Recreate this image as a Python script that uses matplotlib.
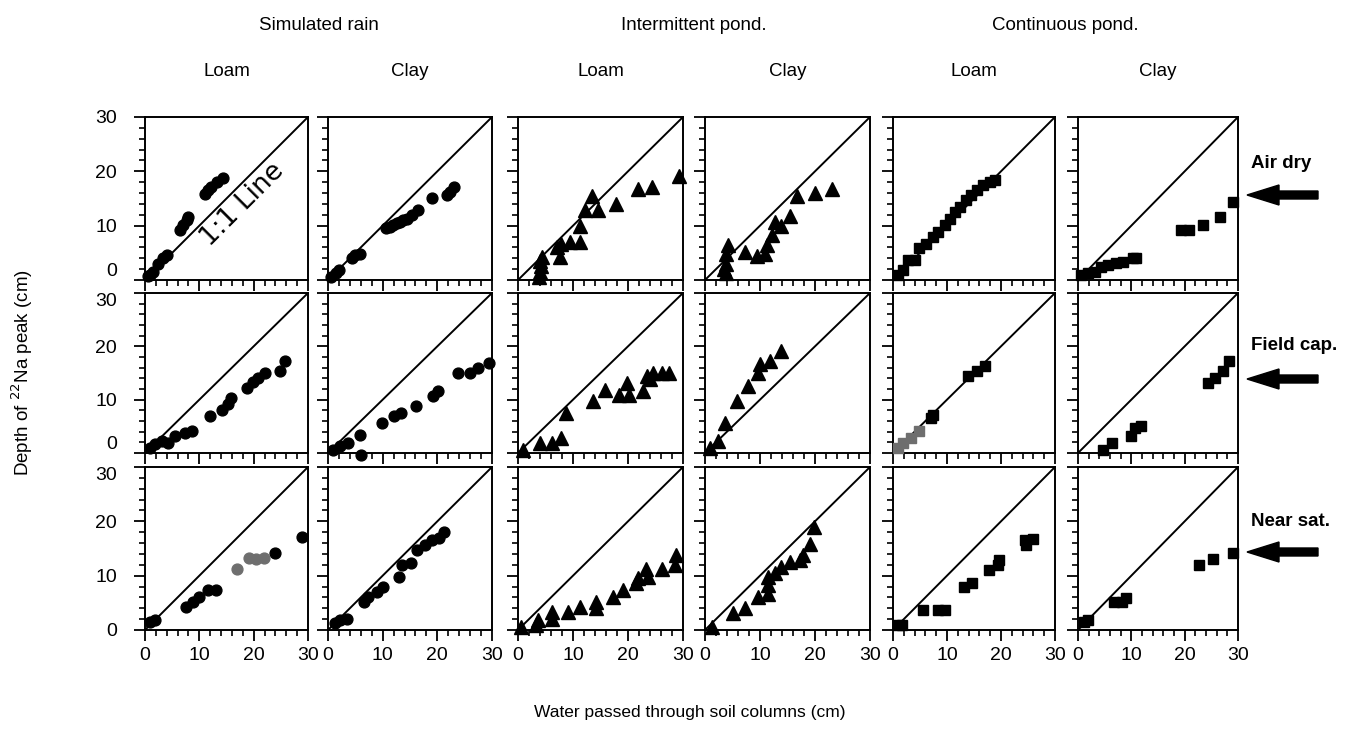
import matplotlib
matplotlib.use('Agg')
import matplotlib.pyplot as plt
from matplotlib.ticker import MultipleLocator
from matplotlib.patches import FancyArrow

plt.rcParams['font.family'] = ['Liberation Sans', 'DejaVu Sans']

# headers
groups = ['Simulated rain', 'Intermittent pond.', 'Continuous pond.']
soils = ['Loam', 'Clay', 'Loam', 'Clay', 'Loam', 'Clay']
moist = ['Air dry', 'Field cap.', 'Near sat.']
ticks = [0, 10, 20, 30]

# ---- air dry row ----
x_rl_ad = [0.5, 1.0, 1.5, 2.4, 3.4, 4.0, 6.4, 7.0, 7.7, 8.0, 11.0, 11.6, 12.2, 13.2, 14.4]
y_rl_ad = [0.7, 1.0, 1.5, 3.0, 4.0, 4.6, 9.2, 10.1, 11.0, 11.6, 15.9, 16.5, 17.1, 18.1, 18.7]
x_rc_ad = [0.6, 1.5, 2.1, 4.3, 4.9, 5.8, 10.7, 11.3, 11.9, 12.6, 13.2, 13.8, 14.4, 15.3, 16.5, 19.0, 21.7, 22.4, 23.0]
y_rc_ad = [0.6, 1.2, 1.8, 4.0, 4.6, 4.8, 9.5, 9.8, 10.1, 10.4, 10.7, 11.0, 11.3, 11.9, 12.9, 15.0, 15.6, 16.2, 17.1]
x_il_ad = [3.9, 4.0, 4.1, 4.0, 4.3, 7.6, 7.0, 7.9, 9.4, 11.3, 11.3, 12.2, 13.4, 14.6, 17.9, 21.9, 24.3, 29.2]
y_il_ad = [0.5, 1.5, 2.5, 3.5, 4.3, 4.3, 6.1, 6.7, 7.0, 7.0, 10.0, 12.8, 15.5, 12.8, 14.0, 16.7, 17.2, 19.2]
x_ic_ad = [3.9, 3.5, 3.9, 3.9, 4.2, 7.3, 9.4, 10.9, 11.2, 12.1, 12.7, 13.9, 15.5, 16.7, 20.0, 23.0]
y_ic_ad = [1.2, 2.0, 3.0, 4.8, 6.4, 5.2, 4.5, 4.8, 6.4, 8.2, 10.6, 10.0, 11.8, 15.5, 16.1, 16.7]
x_cl_ad = [0.9, 1.9, 2.8, 4.0, 4.9, 6.2, 7.4, 8.4, 9.6, 10.5, 11.5, 12.4, 13.6, 14.5, 15.5, 16.7, 17.9, 18.9]
y_cl_ad = [0.9, 1.8, 3.7, 3.7, 5.8, 6.7, 8.0, 8.9, 10.1, 11.3, 12.6, 13.5, 14.7, 15.6, 16.5, 17.5, 18.1, 18.4]
x_cc_ad = [0.6, 1.9, 3.1, 4.4, 5.6, 7.2, 8.4, 10.3, 10.9, 19.4, 20.9, 23.4, 26.6, 29.1]
y_cc_ad = [0.9, 1.2, 1.5, 2.4, 2.8, 3.1, 3.4, 4.0, 4.0, 9.2, 9.2, 10.1, 11.6, 14.4]

# ---- field capacity row ----
x_rl_fc = [0.9, 1.8, 3.1, 4.3, 5.5, 7.3, 8.6, 11.9, 14.1, 15.3, 15.9, 18.7, 19.9, 20.8, 22.0, 24.8, 25.7]
y_rl_fc = [0.9, 1.6, 2.2, 1.9, 3.1, 3.8, 4.1, 6.9, 8.1, 9.1, 10.3, 12.2, 13.4, 14.1, 15.0, 15.3, 17.2]
x_rc_fc = [0.9, 2.2, 3.7, 5.9, 6.0, 9.9, 12.1, 13.3, 16.1, 19.2, 20.1, 23.8, 26.0, 27.5, 29.4]
y_rc_fc = [0.6, 1.3, 1.9, 3.4, -0.3, 5.6, 6.9, 7.5, 8.9, 10.6, 11.6, 15.0, 15.0, 15.9, 16.9]
x_il_fc = [0.9, 4.0, 6.1, 7.9, 8.8, 13.7, 15.8, 18.3, 20.1, 19.8, 22.8, 23.4, 24.0, 24.6, 26.2, 27.4]
y_il_fc = [0.6, 1.9, 1.9, 2.8, 7.5, 9.7, 11.9, 10.9, 10.9, 13.1, 11.6, 14.4, 13.8, 15.0, 15.0, 15.0]
x_ic_fc = [0.9, 2.4, 3.6, 5.8, 7.9, 9.7, 10.0, 11.8, 13.9]
y_ic_fc = [0.9, 2.2, 5.6, 9.7, 12.5, 15.0, 16.6, 17.2, 19.1]
x_cl_fc = [7.1, 7.4, 13.9, 15.5, 17.0]
y_cl_fc = [6.6, 7.2, 14.4, 15.3, 16.3]
x_cl_fc_faded = [0.9, 1.9, 3.4, 4.9]
y_cl_fc_faded = [0.9, 1.9, 2.8, 4.1]
x_cc_fc = [4.7, 6.3, 10.0, 10.6, 11.9, 24.4, 25.6, 27.2, 28.4]
y_cc_fc = [0.6, 1.9, 3.1, 4.7, 5.0, 13.1, 14.1, 15.3, 17.2]

# ---- near saturation row ----
x_rl_ns = [0.9, 1.8, 7.6, 8.8, 10.0, 11.6, 13.1, 24.0, 28.9]
y_rl_ns = [1.5, 1.8, 4.3, 5.2, 6.1, 7.3, 7.3, 14.1, 17.1]
x_rl_ns_faded = [17.0, 19.2, 20.4, 21.9]
y_rl_ns_faded = [11.3, 13.2, 13.0, 13.2]
x_rc_ns = [1.2, 2.2, 3.4, 6.5, 7.4, 8.9, 10.1, 12.9, 13.5, 15.1, 16.3, 17.8, 19.1, 20.3, 21.2]
y_rc_ns = [1.2, 1.8, 2.1, 5.2, 6.1, 7.0, 7.9, 9.8, 11.9, 12.4, 14.8, 15.7, 16.6, 16.9, 18.0]
x_il_ns = [0.6, 3.3, 3.6, 6.1, 6.1, 9.1, 11.2, 14.2, 14.2, 17.3, 19.1, 21.5, 21.8, 23.3, 23.6, 26.1, 28.5, 28.8]
y_il_ns = [0.6, 0.9, 1.8, 2.1, 3.4, 3.4, 4.3, 4.0, 5.2, 6.1, 7.3, 8.6, 9.5, 11.3, 9.8, 11.3, 11.9, 13.8]
x_ic_ns = [1.2, 5.1, 7.2, 9.6, 11.4, 11.4, 11.4, 12.7, 13.9, 15.4, 17.2, 17.8, 19.0, 19.9]
y_ic_ns = [0.6, 3.1, 4.0, 6.1, 6.7, 8.3, 9.8, 10.4, 11.6, 12.6, 12.9, 13.8, 15.9, 19.0]
x_cl_ns = [0.9, 1.6, 5.6, 8.4, 9.7, 13.1, 14.7, 17.8, 19.4, 19.7, 24.4, 24.7, 25.9]
y_cl_ns = [0.9, 0.9, 3.7, 3.7, 3.7, 8.0, 8.6, 11.0, 11.9, 12.9, 16.5, 15.6, 16.8]
x_cc_ns = [1.2, 1.9, 6.8, 8.3, 9.0, 22.6, 25.4, 29.1]
y_cc_ns = [1.5, 1.8, 5.2, 5.2, 5.8, 11.9, 13.1, 14.1]

panels = [
    [(x_rl_ad, y_rl_ad), (x_rc_ad, y_rc_ad), (x_il_ad, y_il_ad), (x_ic_ad, y_ic_ad), (x_cl_ad, y_cl_ad), (x_cc_ad, y_cc_ad)],
    [(x_rl_fc, y_rl_fc), (x_rc_fc, y_rc_fc), (x_il_fc, y_il_fc), (x_ic_fc, y_ic_fc), (x_cl_fc, y_cl_fc), (x_cc_fc, y_cc_fc)],
    [(x_rl_ns, y_rl_ns), (x_rc_ns, y_rc_ns), (x_il_ns, y_il_ns), (x_ic_ns, y_ic_ns), (x_cl_ns, y_cl_ns), (x_cc_ns, y_cc_ns)],
]
faded = {(1, 4): (x_cl_fc_faded, y_cl_fc_faded), (2, 0): (x_rl_ns_faded, y_rl_ns_faded)}

W, H = 1345, 750
col_px = [(145, 308), (328, 492), (518, 683), (705, 870), (893, 1055), (1078, 1238)]
row_px = [(117, 280), (293, 453), (467, 630)]
markers = ['o', 'o', '^', '^', 's', 's']
msizes = [7.8, 7.8, 9.8, 9.8, 7.5, 7.5]

fig = plt.figure(figsize=(W / 100, H / 100), dpi=100)

for r in range(3):
    for c in range(6):
        x0, x1 = col_px[c]
        t, b = row_px[r]
        ax = fig.add_axes([x0 / W, 1 - b / H, (x1 - x0) / W, (b - t) / H])
        ax.plot([0, 30], [0, 30], color='black', lw=1.4)
        xs, ys = panels[r][c]
        ax.plot(xs, ys, ls='none', marker=markers[c], ms=msizes[c], color='black', clip_on=False, zorder=3)
        if (r, c) in faded:
            fx, fy = faded[(r, c)]
            ax.plot(fx, fy, ls='none', marker=markers[c], ms=msizes[c], color='#6e6e6e', clip_on=False, zorder=3)
        ax.set_xlim(0, 30)
        ax.set_ylim(0, 30)
        ax.set_xticks(ticks)
        ax.set_yticks(ticks)
        ax.xaxis.set_minor_locator(MultipleLocator(2))
        ax.yaxis.set_minor_locator(MultipleLocator(2))
        ax.tick_params(which='major', direction='out', length=8, width=1.3, labelsize=14)
        ax.tick_params(which='minor', direction='out', length=4.5, width=1.2)
        ax.tick_params(axis='y', which='major', pad=12)
        ax.tick_params(axis='x', which='major', pad=4)
        for s in ax.spines.values():
            s.set_linewidth(1.4)
        if c != 0:
            ax.set_yticklabels([])
        else:
            # keep the 0 / 30 labels of stacked rows apart
            yt = ax.yaxis.get_major_ticks()
            if r < 2:
                yt[0].label1.set_va('bottom')
            if r > 0:
                yt[-1].label1.set_va('top')
        if r != 2:
            ax.set_xticklabels([])
        if r == 0 and c == 0:
            ax.text(17.9, 13.9, '1:1 Line', rotation=45, ha='center', va='center',
                    fontsize=19, family='DejaVu Sans')

# column headers
for i, g in enumerate(groups):
    xc = (col_px[2 * i][0] + col_px[2 * i + 1][1]) / 2
    fig.text(xc / W, 1 - 25 / H, g, ha='center', va='center', fontsize=13.5)
for c, s in enumerate(soils):
    xc = (col_px[c][0] + col_px[c][1]) / 2
    fig.text(xc / W, 1 - 72 / H, s, ha='center', va='center', fontsize=13.5)

# row labels with arrows
text_y = [163, 345, 522]
arrow_y = [195, 379, 552]
for m, ty, ay in zip(moist, text_y, arrow_y):
    fig.text(1251 / W, 1 - ty / H, m, ha='left', va='center', fontsize=13.5, fontweight='bold')
    fig.add_artist(FancyArrow(13.18, (H - ay) / 100, -0.71, 0, width=0.08, head_width=0.2,
                              head_length=0.32, length_includes_head=True,
                              transform=fig.dpi_scale_trans, color='black'))

fig.text(22 / W, 1 - 373 / H, 'Depth of $^{22}$Na peak (cm)', rotation=90,
         ha='center', va='center', fontsize=13.5)
fig.text(690 / W, 1 - 713 / H, 'Water passed through soil columns (cm)',
         ha='center', va='center', fontsize=12.5)

fig.savefig('out.png', dpi=100)
